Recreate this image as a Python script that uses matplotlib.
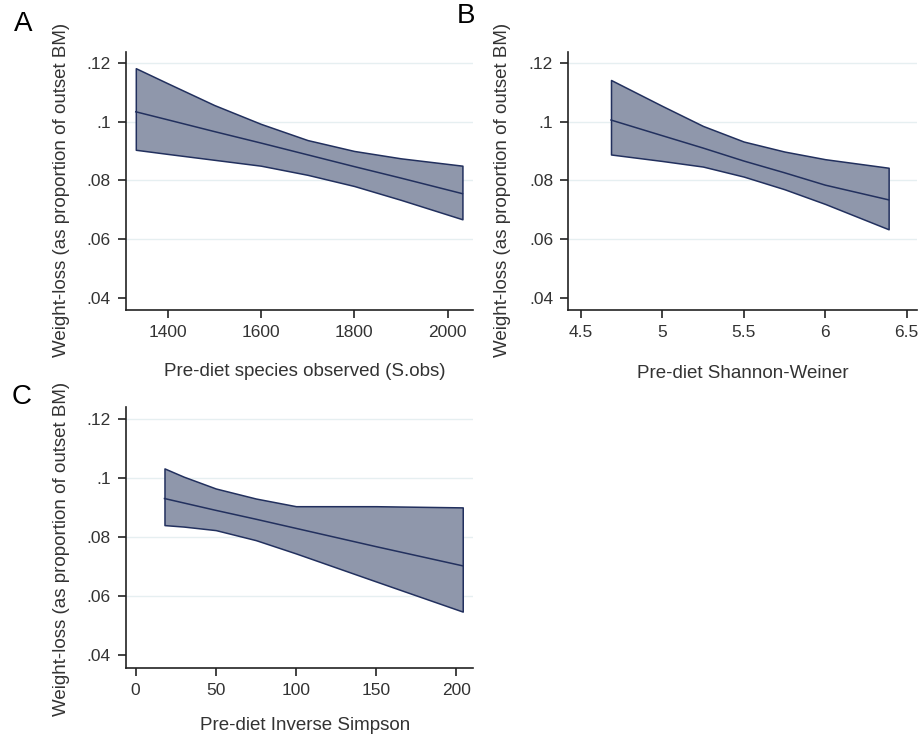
import numpy as np
import matplotlib
matplotlib.use("Agg")
import matplotlib.pyplot as plt
from matplotlib.ticker import FuncFormatter

plt.rcParams['font.family'] = ['Liberation Sans', 'DejaVu Sans']

# panel A: species observed
x_a = [1332, 1400, 1500, 1600, 1700, 1800, 1900, 2032]
upper_a = [0.1181, 0.1130, 0.1056, 0.0992, 0.0937, 0.0900, 0.0875, 0.0850]
mean_a = [0.1033, 0.1006, 0.0966, 0.0927, 0.0887, 0.0847, 0.0808, 0.0755]
lower_a = [0.0904, 0.0890, 0.0870, 0.0850, 0.0819, 0.0781, 0.0734, 0.0668]

# panel B: Shannon-Weiner
x_b = [4.686, 5.0, 5.25, 5.5, 5.75, 6.0, 6.389]
upper_b = [0.1141, 0.1053, 0.0985, 0.0932, 0.0898, 0.0872, 0.0843]
mean_b = [0.1005, 0.0952, 0.0910, 0.0866, 0.0826, 0.0784, 0.0734]
lower_b = [0.0888, 0.0866, 0.0847, 0.0813, 0.0770, 0.0720, 0.0634]

# panel C: inverse Simpson
x_c = [18, 30, 50, 75, 100, 150, 204]
upper_c = [0.1032, 0.1004, 0.0964, 0.0930, 0.0904, 0.0904, 0.0900]
mean_c = [0.0930, 0.0915, 0.0890, 0.0860, 0.0829, 0.0767, 0.0702]
lower_c = [0.0840, 0.0835, 0.0823, 0.0789, 0.0744, 0.0649, 0.0547]

yticks = [0.04, 0.06, 0.08, 0.10, 0.12]
ylabel = 'Weight-loss (as proportion of outset BM)'

W, H = 922, 737
fill_col = '#8f97ab'
line_col = '#22305e'
grid_col = '#e6eff1'
fs = 12.5
lfs = 13.5


def fmt(v, pos):
    return '{:g}'.format(round(v, 4)).lstrip('0') or '0'


def panel(rect, x, up, mid, lo, xlim, ylim, xticks):
    l, t, r, b = rect
    ax = fig.add_axes([l / W, 1 - b / H, (r - l) / W, (b - t) / H])
    ax.fill_between(x, lo, up, facecolor=fill_col, edgecolor=line_col, lw=1.1, zorder=2)
    ax.plot(x, mid, color=line_col, lw=1.1, zorder=3)
    for yv in yticks[1:]:
        ax.axhline(yv, color=grid_col, lw=1.0, zorder=0)
    ax.set_xlim(*xlim)
    ax.set_ylim(*ylim)
    ax.set_xticks(xticks)
    ax.set_yticks(yticks)
    ax.yaxis.set_major_formatter(FuncFormatter(fmt))
    ax.xaxis.set_major_formatter(FuncFormatter(lambda v, p: '{:g}'.format(v)))
    for s in ['top', 'right']:
        ax.spines[s].set_visible(False)
    for s in ['left', 'bottom']:
        ax.spines[s].set_linewidth(1.2)
        ax.spines[s].set_color('#222222')
    ax.tick_params(direction='out', length=6, width=1.2, color='#222222',
                   labelsize=fs, labelcolor='#333333', pad=5)
    return ax


fig = plt.figure(figsize=(W / 100, H / 100), dpi=100)

panel((126, 52, 472.7, 310), x_a, upper_a, mean_a, lower_a,
      (1311, 2054), (0.036, 0.1236), [1400, 1600, 1800, 2000])
panel((568.3, 52, 917, 310), x_b, upper_b, mean_b, lower_b,
      (4.424, 6.563), (0.036, 0.1236), [4.5, 5, 5.5, 6, 6.5])
panel((126, 407.3, 473, 667.7), x_c, upper_c, mean_c, lower_c,
      (-6, 210.4), (0.0357, 0.1239), [0, 50, 100, 150, 200])

# panel letters
for lab, px, py in [('A', 23, 24), ('B', 466, 16), ('C', 22, 397)]:
    fig.text(px / W, 1 - py / H, lab, fontsize=20, ha='center', va='center')

# y labels
for px, py in [(62, 190), (502, 190), (62, 549)]:
    fig.text(px / W, 1 - py / H, ylabel, rotation=90, fontsize=lfs,
             ha='center', va='center', color='#333333')

# x labels
for txt, px, py in [('Pre-diet species observed (S.obs)', 305, 372),
                    ('Pre-diet Shannon-Weiner', 743, 373),
                    ('Pre-diet Inverse Simpson', 305, 725)]:
    fig.text(px / W, 1 - py / H, txt, fontsize=lfs, ha='center', va='center',
             color='#333333')

fig.savefig('out.png', dpi=100, facecolor='white')
